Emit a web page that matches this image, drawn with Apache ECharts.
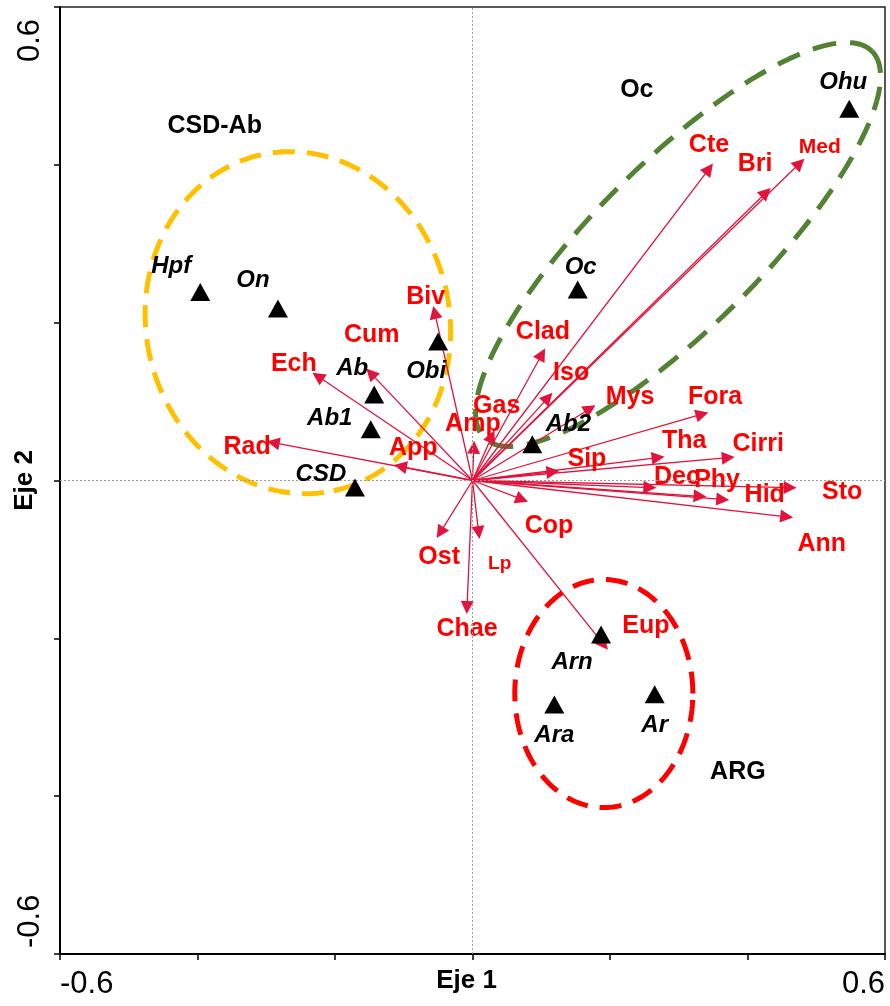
<!DOCTYPE html>
<html><head><meta charset="utf-8">
<script src="https://cdn.jsdelivr.net/npm/echarts@6/dist/echarts.min.js"></script>
<style>html,body{margin:0;padding:0;background:#fff}#c{width:890px;height:1006px}</style>
</head><body><div id="c"></div>
<script>
// ---- DATA ----
const speciesNames = ['Biv','Cum','Ech','Rad','App','Amp','Gas','Clad','Iso','Mys','Fora','Tha','Cirri','Sip','Dec','Phy','Hid','Sto','Ann','Cop','Ost','Lp','Chae','Eup','Cte','Bri','Med'];
const speciesX = [-0.055,-0.148,-0.225,-0.290,-0.105,0.002,0.028,0.101,0.110,0.171,0.334,0.270,0.372,0.117,0.258,0.331,0.364,0.462,0.457,0.072,-0.047,0.009,-0.008,0.191,0.344,0.427,0.476];
const speciesY = [0.213,0.136,0.132,0.048,0.018,0.042,0.056,0.160,0.105,0.091,0.084,0.029,0.029,0.011,-0.009,-0.020,-0.024,-0.009,-0.046,-0.024,-0.066,-0.066,-0.161,-0.208,0.395,0.365,0.402];

const siteNames = ['Hpf','On','Obi','Ab','Ab1','CSD','Oc','Ohu','Ab2','Arn','Ara','Ar'];
const siteX = [-0.396,-0.283,-0.050,-0.143,-0.148,-0.171,0.153,0.548,0.087,0.187,0.119,0.265];
const siteY = [0.239,0.218,0.176,0.109,0.065,-0.009,0.242,0.471,0.046,-0.195,-0.284,-0.271];

const groupNames = ['CSD-Ab','Oc','ARG'];
const groupX = [-0.375,0.239,0.386];
const groupY = [0.449,0.495,-0.369];

const axisTickLabels = ['-0.6','0.6'];
const axisNames = ['Eje 1','Eje 2'];

// group ellipses: centre, semi-axis vector A, semi-axis vector B (data units)
const ellipseCentres = [[-0.254,0.200],[0.299,0.299],[0.191,-0.270]];
const ellipseA = [[0.052,-0.213],[0.282,0.245],[0.1295,0]];
const ellipseB = [[0.216,0.040],[-0.085,0.074],[0,0.1445]];

// ---- STYLE / LABEL PLACEMENT ----
const FONT = 'Liberation Sans, Arial, sans-serif';
const ellipseColors = ['#FFC000','#548235','#FF0000'];
const ellipseDash = [[22,12],[24,14],[22,12]];
const speciesLabelOffset = {Biv:[-9,-15],Cum:[1,-38],Ech:[-24,-12],Rad:[-26,4],App:[13,-18],Amp:[-1,-23],Gas:[5,-30],Clad:[1,-22],Iso:[23,-25],Mys:[40,-12],Fora:[13,-17],Tha:[26,-17],Cirri:[30,-14],Sip:[34,-13],Dec:[27,-10],Phy:[17,-16],Hid:[42,-4],Sto:[52,5],Ann:[35,27],Cop:[27,27],Ost:[-1,25],Lp:[21,31],Chae:[0,22],Eup:[42,-19],Cte:[0,-24],Bri:[-11,-28],Med:[20,-16]};
const speciesFontSize = {Lp:19, Med:21};
const siteLabelOffset = {Hpf:[-29,-26],On:[-25,-28],Obi:[-12,30],Ab:[-22,-26],Ab1:[-41,-11],CSD:[-34,-13],Oc:[3,-22],Ohu:[-6,-26],Ab2:[36,-20],Arn:[-29,28],Ara:[0,31],Ar:[0,31]};

function ellipsePoints(i){
  const c = ellipseCentres[i], a = ellipseA[i], b = ellipseB[i];
  const pts = [];
  for (let k = 0; k <= 180; k++){
    const t = k/180*2*Math.PI;
    pts.push([c[0]+Math.cos(t)*a[0]+Math.sin(t)*b[0], c[1]+Math.cos(t)*a[1]+Math.sin(t)*b[1]]);
  }
  return pts;
}
function tickFmtX(v){
  if (Math.abs(v+0.6) < 1e-9) return axisTickLabels[0];
  if (Math.abs(v-0.6) < 1e-9) return axisTickLabels[1];
  return '';
}
function tickFmtY(v){
  if (Math.abs(v+0.6) < 1e-9) return '{lo|' + axisTickLabels[0] + '}';
  if (Math.abs(v-0.6) < 1e-9) return '{hi|' + axisTickLabels[1] + '}';
  return '';
}

const series = [];
ellipseCentres.forEach((c,i)=>{
  series.push({type:'line', data: ellipsePoints(i), symbol:'none', silent:true, z:1,
    lineStyle:{color:ellipseColors[i], width:5, type:ellipseDash[i]}});
});
// zero reference lines
series.push({type:'line', data:[], silent:true, z:0,
  markLine:{silent:true, symbol:'none', label:{show:false},
    lineStyle:{color:'#9a9a9a', width:1, type:[2,2]},
    data:[{xAxis:0},{yAxis:0}]}});
// species arrows
series.push({type:'lines', coordinateSystem:'cartesian2d', z:3, silent:true,
  symbol:['none','triangle'], symbolSize:[0,13],
  lineStyle:{color:'#E0143C', width:1.3, opacity:1},
  data: speciesNames.map((n,i)=>({coords:[[0,0],[speciesX[i],speciesY[i]]]}))});
// species labels
series.push({type:'scatter', z:4, silent:true, symbolSize:1, itemStyle:{color:'rgba(0,0,0,0)', opacity:1},
  data: speciesNames.map((n,i)=>({value:[speciesX[i],speciesY[i]], name:n,
    label:{show:true, position:'inside', offset:speciesLabelOffset[n], formatter:n, opacity:1, textBorderWidth:0,
      color:'#FF0000', fontFamily:FONT, fontWeight:'bold', fontSize:speciesFontSize[n]||25}}))});
// sites
series.push({type:'scatter', z:5, silent:true, symbol:'triangle', symbolSize:[20,18],
  itemStyle:{color:'#000', opacity:1},
  data: siteNames.map((n,i)=>({value:[siteX[i],siteY[i]], name:n,
    label:{show:true, position:'inside', offset:siteLabelOffset[n], formatter:n, opacity:1, textBorderWidth:0,
      color:'#000', fontFamily:FONT, fontWeight:'bold', fontStyle:'italic', fontSize:24}}))});
// group labels
series.push({type:'scatter', z:5, silent:true, symbolSize:1, itemStyle:{color:'rgba(0,0,0,0)', opacity:1},
  data: groupNames.map((n,i)=>({value:[groupX[i],groupY[i]], name:n,
    label:{show:true, position:'inside', formatter:n, color:'#000', opacity:1, textBorderWidth:0,
      fontFamily:FONT, fontWeight:'bold', fontSize:25}}))});

const chart = echarts.init(document.getElementById('c'), null, {renderer:'canvas'});
chart.setOption({
  animation:false,
  backgroundColor:'#fff',
  grid:{left:60, right:5, top:7, bottom:52, containLabel:false, outerBoundsMode:'none',
    show:true, borderColor:'#222', borderWidth:1.5},
  xAxis:{type:'value', min:-0.6, max:0.6, interval:0.2,
    axisLine:{onZero:false, lineStyle:{color:'#000', width:2}},
    axisTick:{show:true, length:6, lineStyle:{color:'#000', width:1.5}},
    splitLine:{show:false},
    axisLabel:{formatter:tickFmtX, fontSize:31, color:'#000', fontFamily:FONT, margin:15,
      alignMinLabel:'left', alignMaxLabel:'right', showMinLabel:true, showMaxLabel:true},
    name:axisNames[0], nameLocation:'middle', nameGap:14, nameMoveOverlap:false,
    nameTextStyle:{fontFamily:FONT, fontWeight:'bold', fontSize:26, color:'#000', verticalAlign:'top', padding:[0,12,0,0]}},
  yAxis:{type:'value', min:-0.6, max:0.6, interval:0.2,
    axisLine:{onZero:false, lineStyle:{color:'#000', width:2}},
    axisTick:{show:true, length:6, lineStyle:{color:'#000', width:1.5}},
    splitLine:{show:false},
    axisLabel:{formatter:tickFmtY, fontSize:31, color:'#000', fontFamily:FONT, margin:14, rotate:90,
      alignMinLabel:'left', alignMaxLabel:'right', showMinLabel:true, showMaxLabel:true,
      rich:{lo:{fontSize:31, fontFamily:FONT, color:'#000', padding:[0,0,0,6]},
            hi:{fontSize:31, fontFamily:FONT, color:'#000', padding:[0,12,0,0]}}},
    name:axisNames[1], nameLocation:'middle', nameGap:22, nameMoveOverlap:false,
    nameTextStyle:{fontFamily:FONT, fontWeight:'bold', fontSize:26, color:'#000'}},
  series: series
});
</script></body></html>
